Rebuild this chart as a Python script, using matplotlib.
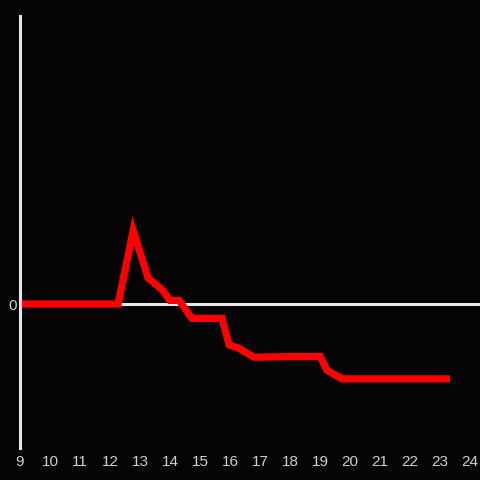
import matplotlib
matplotlib.use("Agg")
import matplotlib.pyplot as plt

plt.rcParams["font.family"] = ["Liberation Sans", "DejaVu Sans"]

# hours of the day and the value at each point
hours = [9.0, 12.27, 12.77, 13.27, 13.73, 14.0, 14.3, 14.73, 15.73, 15.97,
         16.27, 16.8, 17.93, 19.0, 19.23, 19.73, 23.33]
values = [0.0, 0.0, 0.51, 0.18, 0.10, 0.025, 0.025, -0.10, -0.10, -0.285,
          -0.305, -0.37, -0.365, -0.365, -0.46, -0.52, -0.52]
xticks = list(range(9, 25))

bg = "#060307"
fg = "#e6e6e6"

fig = plt.figure(figsize=(4.8, 4.8), dpi=100, facecolor=bg)
ax = fig.add_axes([20 / 480, 32 / 480, 460 / 480, 432 / 480], facecolor=bg)

ax.axhline(0, color=fg, linewidth=2.2, zorder=1)
ax.plot(hours, values, color="#ff0000", linewidth=5.2,
        solid_capstyle="butt", solid_joinstyle="miter", zorder=2)

ax.set_xlim(9, 24.33)
ax.set_ylim(-1, 2)

for side in ("top", "right", "bottom"):
    ax.spines[side].set_visible(False)
ax.spines["left"].set_color(fg)
ax.spines["left"].set_linewidth(2.2)

ax.set_xticks(xticks)
ax.set_xticklabels([str(h) for h in xticks])
ax.set_yticks([0])
ax.set_yticklabels(["0"])
ax.tick_params(axis="both", length=0, colors="#d0d0d0", labelsize=11)
ax.tick_params(axis="x", pad=5)
ax.tick_params(axis="y", pad=2)

fig.savefig("out.png", dpi=100, facecolor=bg)
